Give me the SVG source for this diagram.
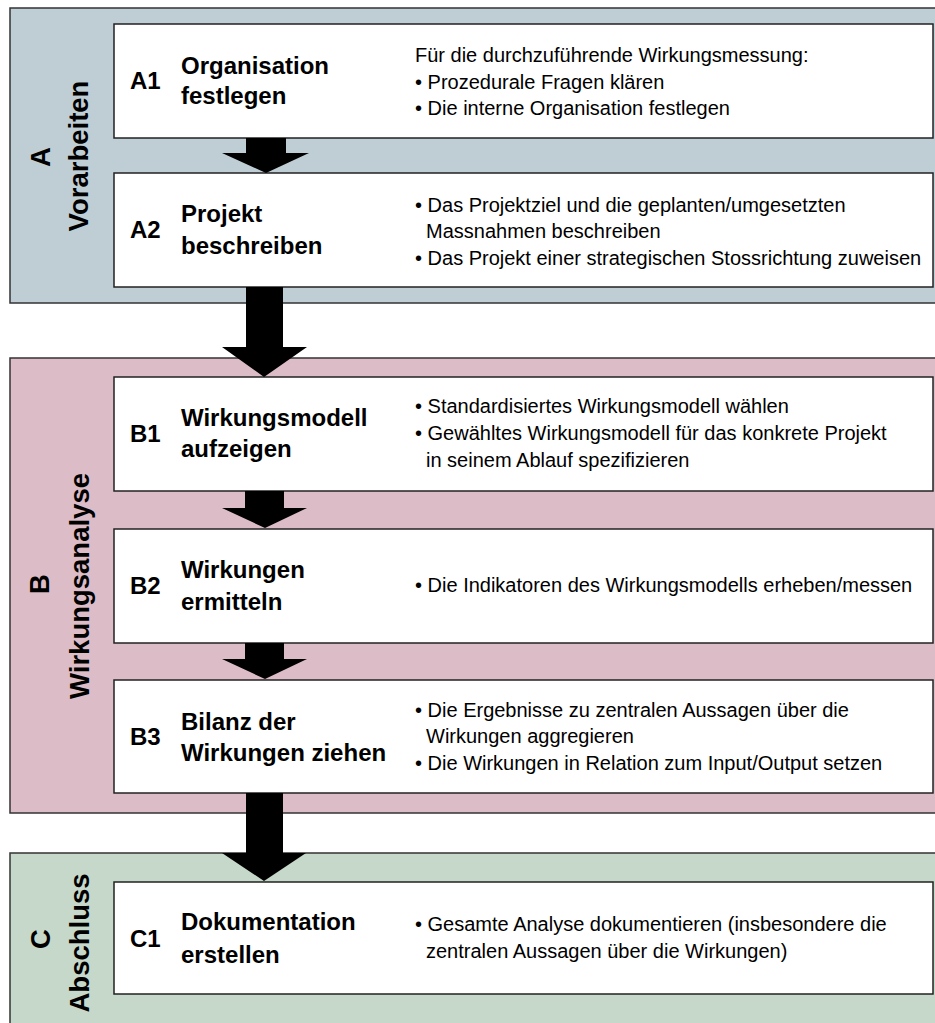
<svg xmlns="http://www.w3.org/2000/svg" width="935" height="1023" viewBox="0 0 935 1023">
<style>
.panel{stroke:#333;stroke-width:1.5}
.pa{fill:#bfced5}
.pb{fill:#dcbcc6}
.pc{fill:#c6d8c9}
.box{fill:#fff;stroke:#222;stroke-width:1.5}
.id,.title{font-family:"Liberation Sans",Arial,sans-serif;font-weight:bold;font-size:24px;fill:#000}
.side{font-family:"Liberation Sans",Arial,sans-serif;font-weight:bold;font-size:27.5px;fill:#000}
.body{font-family:"Liberation Sans",Arial,sans-serif;font-size:20px;fill:#000}
.arrow{fill:#000}
</style>
<rect width="935" height="1023" fill="#fff"/>
<g id="panel-A">
<rect class="panel pa" x="10" y="8" width="940" height="295"/>
<text class="side" transform="translate(50,157) rotate(-90)" text-anchor="middle">A</text>
<text class="side" transform="translate(88,156) rotate(-90)" text-anchor="middle">Vorarbeiten</text>
</g>
<g id="panel-B">
<rect class="panel pb" x="10" y="358" width="940" height="455"/>
<text class="side" transform="translate(49,584) rotate(-90)" text-anchor="middle">B</text>
<text class="side" transform="translate(89,586) rotate(-90)" text-anchor="middle">Wirkungsanalyse</text>
</g>
<g id="panel-C">
<rect class="panel pc" x="10" y="853" width="940" height="200"/>
<text class="side" transform="translate(50,939) rotate(-90)" text-anchor="middle">C</text>
<text class="side" transform="translate(89,943) rotate(-90)" text-anchor="middle">Abschluss</text>
</g>
<g id="A1">
<rect class="box" x="114" y="24" width="819" height="114"/>
<text class="id" x="130" y="89">A1</text>
<text class="title" x="181" y="74">Organisation</text>
<text class="title" x="181" y="104">festlegen</text>
<text class="body" x="415" y="62">Für die durchzuführende Wirkungsmessung:</text>
<text class="body" x="415" y="89">• Prozedurale Fragen klären</text>
<text class="body" x="415" y="115">• Die interne Organisation festlegen</text>
</g>
<g id="A2">
<rect class="box" x="114" y="173" width="819" height="114"/>
<text class="id" x="130" y="238">A2</text>
<text class="title" x="181" y="222">Projekt</text>
<text class="title" x="181" y="254">beschreiben</text>
<text class="body" x="415" y="212">• Das Projektziel und die geplanten/umgesetzten</text>
<text class="body" x="426" y="238">Massnahmen beschreiben</text>
<text class="body" x="415" y="265">• Das Projekt einer strategischen Stossrichtung zuweisen</text>
</g>
<g id="B1">
<rect class="box" x="114" y="377" width="819" height="114"/>
<text class="id" x="130" y="442">B1</text>
<text class="title" x="181" y="426">Wirkungsmodell</text>
<text class="title" x="181" y="457">aufzeigen</text>
<text class="body" x="415" y="413">• Standardisiertes Wirkungsmodell wählen</text>
<text class="body" x="415" y="440">• Gewähltes Wirkungsmodell für das konkrete Projekt</text>
<text class="body" x="426" y="467">in seinem Ablauf spezifizieren</text>
</g>
<g id="B2">
<rect class="box" x="114" y="529" width="819" height="114"/>
<text class="id" x="130" y="594">B2</text>
<text class="title" x="181" y="578">Wirkungen</text>
<text class="title" x="181" y="610">ermitteln</text>
<text class="body" x="415" y="592">• Die Indikatoren des Wirkungsmodells erheben/messen</text>
</g>
<g id="B3">
<rect class="box" x="114" y="680" width="819" height="113"/>
<text class="id" x="130" y="745">B3</text>
<text class="title" x="181" y="730">Bilanz der</text>
<text class="title" x="181" y="761">Wirkungen ziehen</text>
<text class="body" x="415" y="717">• Die Ergebnisse zu zentralen Aussagen über die</text>
<text class="body" x="426" y="743">Wirkungen aggregieren</text>
<text class="body" x="415" y="770">• Die Wirkungen in Relation zum Input/Output setzen</text>
</g>
<g id="C1">
<rect class="box" x="114" y="882" width="819" height="112"/>
<text class="id" x="130" y="947">C1</text>
<text class="title" x="181" y="930">Dokumentation</text>
<text class="title" x="181" y="963">erstellen</text>
<text class="body" x="415" y="931">• Gesamte Analyse dokumentieren (insbesondere die</text>
<text class="body" x="426" y="958">zentralen Aussagen über die Wirkungen)</text>
</g>
<g id="connectors">
<polygon class="arrow" points="246,138 286,138 286,153 309,153 266,173 222,153 246,153"/>
<polygon class="arrow" points="246,287 283,287 283,347 307,347 264,377 222,347 246,347"/>
<polygon class="arrow" points="245,491 284,491 284,508 307,508 265,528 222,508 245,508"/>
<polygon class="arrow" points="245,643 284,643 284,659 307,659 265,679 222,659 245,659"/>
<polygon class="arrow" points="246,793 283,793 283,853 306,853 264,881 222,853 246,853"/>
</g>
</svg>
